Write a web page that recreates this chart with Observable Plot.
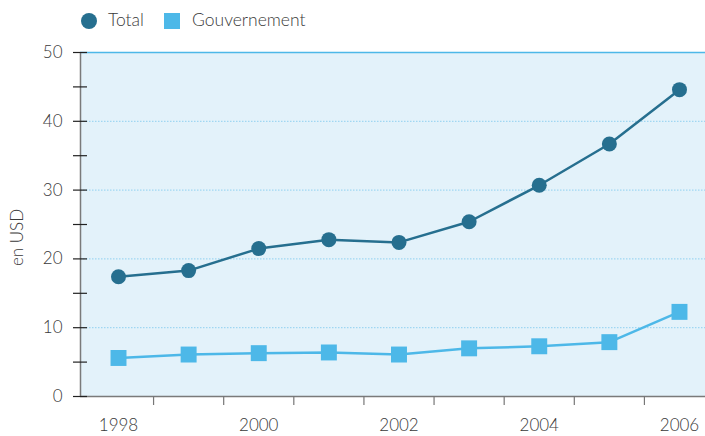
<!DOCTYPE html>
<html>
<head>
<meta charset="utf-8">
<script src="https://cdn.jsdelivr.net/npm/d3@7"></script>
<script src="https://cdn.jsdelivr.net/npm/@observablehq/plot@0.6"></script>
<style>
  body { margin: 0; background: #fff; font-family: Lato, "Open Sans", sans-serif; }
  #legend { position: relative; height: 40px; width: 705px; font-size: 17.5px; color: #3a3a3a; font-weight: 300; }
  #legend .sw { position: absolute; top: 13px; width: 16px; height: 16px; }
  #legend .lab { position: absolute; top: 9px; line-height: 22px; }
</style>
</head>
<body>
<div id="legend">
  <div class="sw" style="left:81px;border-radius:50%;background:#266f8f"></div>
  <div class="lab" style="left:108px">Total</div>
  <div class="sw" style="left:164px;background:#4db8e8"></div>
  <div class="lab" style="left:192px">Gouvernement</div>
</div>
<div id="chart"></div>
<script>
const years = [1998, 1999, 2000, 2001, 2002, 2003, 2004, 2005, 2006];
const total = [17.4, 18.3, 21.5, 22.8, 22.4, 25.4, 30.7, 36.7, 44.6];
const gouvernement = [5.6, 6.1, 6.3, 6.4, 6.1, 7.0, 7.3, 7.9, 12.3];
const yTicks = [0, 10, 20, 30, 40, 50];
const yMinorTicks = [0, 5, 10, 15, 20, 25, 30, 35, 40, 45, 50];
const xLabelTicks = [1998, 2000, 2002, 2004, 2006];
const xBoundaryTicks = [1998.5, 1999.5, 2000.5, 2001.5, 2002.5, 2003.5, 2004.5, 2005.5];
const gridValues = [10, 20, 30, 40];
const xDomain = [1997.458, 2006.371];

const totalData = years.map((y, i) => ({year: y, value: total[i]}));
const gouvData = years.map((y, i) => ({year: y, value: gouvernement[i]}));

const chart = Plot.plot({
  width: 705,
  height: 396,
  marginLeft: 80,
  marginRight: 0,
  marginTop: 12,
  marginBottom: 40,
  style: {fontFamily: "Lato, 'Open Sans', sans-serif", fontSize: "17px", fontWeight: 300, color: "#3a3a3a", background: "#fff"},
  x: {domain: xDomain, axis: null},
  y: {domain: [0, 50], axis: null},
  marks: [
    Plot.frame({fill: "#e3f2fa", stroke: null}),
    Plot.ruleY(gridValues, {stroke: "#8fd0f0", strokeDasharray: "1.5,1.5", strokeWidth: 1}),
    Plot.ruleY([50], {stroke: "#4db8e8", strokeWidth: 1.5}),
    Plot.ruleY([0], {stroke: "#7a7a7a", strokeWidth: 1.5}),
    Plot.ruleX([xDomain[0]], {stroke: "#7a7a7a", strokeWidth: 1.5}),
    Plot.axisY(yMinorTicks, {tickSize: 14, dx: 7, tickFormat: () => "", stroke: "#222", strokeOpacity: 1, strokeWidth: 1.2, label: null}),
    Plot.axisY(yTicks, {tickSize: 0, tickPadding: 18, label: null, fill: "#3a3a3a", fontSize: 17}),
    Plot.axisX(xBoundaryTicks, {tickSize: 9, tickFormat: () => "", stroke: "#777", strokeOpacity: 1, strokeWidth: 1.2, label: null}),
    Plot.axisX(xLabelTicks, {tickSize: 0, tickPadding: 22, label: null, tickFormat: d => String(d), fill: "#3a3a3a", fontSize: 17}),
    Plot.text(["en USD"], {frameAnchor: "left", textAnchor: "middle", rotate: -90, dx: -63, dy: 13, fontSize: 17, fill: "#3a3a3a"}),
    Plot.line(gouvData, {x: "year", y: "value", stroke: "#4db8e8", strokeWidth: 2.5}),
    Plot.dot(gouvData, {x: "year", y: "value", symbol: "square", r: 9, fill: "#4db8e8", stroke: null}),
    Plot.line(totalData, {x: "year", y: "value", stroke: "#266f8f", strokeWidth: 2.5}),
    Plot.dot(totalData, {x: "year", y: "value", r: 7.5, fill: "#266f8f", stroke: null})
  ]
});
document.getElementById("chart").appendChild(chart);
</script>
</body>
</html>
